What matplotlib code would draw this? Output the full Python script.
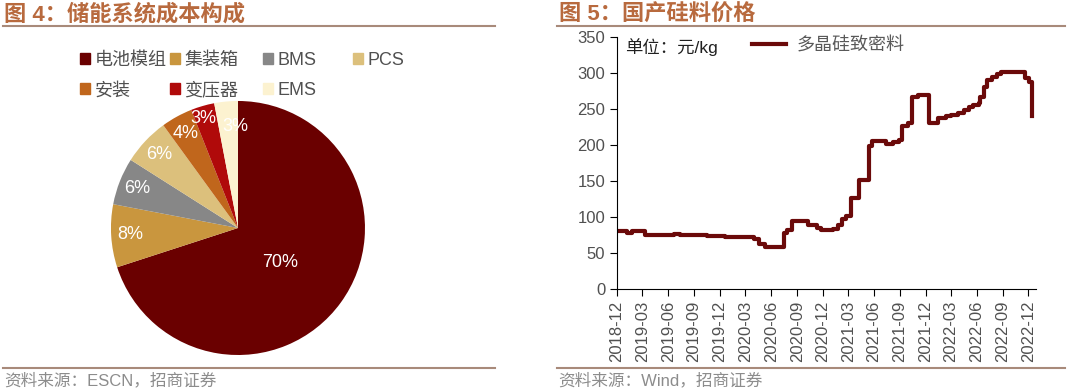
import matplotlib
matplotlib.use('Agg')
import matplotlib.pyplot as plt
from matplotlib.lines import Line2D
import pandas as pd

plt.rcParams['font.family'] = ['Liberation Sans', 'Noto Sans CJK SC']
plt.rcParams['axes.unicode_minus'] = False

# 图4 数据
parts = ['电池模组', '集装箱', 'BMS', 'PCS', '安装', '变压器', 'EMS']
shares = [70, 8, 6, 6, 4, 3, 3]
part_colors = ['#6a0000', '#c9963e', '#878787', '#dcc07c', '#c0661c', '#b00a0a', '#fcf2d0']

# 图5 数据（多晶硅致密料，元/kg）
price_dates = ['2018-12-01', '2019-01-05', '2019-01-22', '2019-03-12', '2019-06-20', '2019-07-12',
               '2019-10-18', '2019-12-20', '2020-03-30', '2020-04-17', '2020-05-10', '2020-07-15',
               '2020-07-28', '2020-08-12', '2020-10-10', '2020-11-10', '2020-11-25', '2021-01-05',
               '2021-01-25', '2021-02-08', '2021-02-22', '2021-03-10', '2021-04-08', '2021-05-14',
               '2021-05-25', '2021-07-12', '2021-08-08', '2021-08-28', '2021-09-08', '2021-10-01',
               '2021-10-14', '2021-11-05', '2021-12-12', '2022-01-14', '2022-02-10', '2022-03-01',
               '2022-03-25', '2022-04-15', '2022-05-05', '2022-05-18', '2022-06-08', '2022-06-14',
               '2022-06-28', '2022-07-08', '2022-07-25', '2022-08-12', '2022-08-25', '2022-11-18',
               '2022-12-05', '2022-12-13', '2022-12-14']
price_values = [81, 78, 81, 75, 76, 75,
                73.5, 72.5, 70, 62, 59, 78,
                82, 94.5, 89, 85, 82, 84,
                89, 97, 102, 126, 151, 199,
                205, 201, 204, 207, 227, 231,
                267, 269, 230, 237, 240, 242,
                244, 249, 253, 256, 259, 267,
                280, 290, 294, 298, 302, 293,
                288, 286, 240]

title_color = '#b86a3e'
rule_color = '#a88a7a'
src_color = '#8c8c8c'

fig = plt.figure(figsize=(10.7, 3.89), dpi=100)

# 标题、分隔线、资料来源
fig.text(0.004, 0.962, '图 4：储能系统成本构成', color=title_color, fontsize=16,
         fontweight='bold', va='center')
fig.text(0.522, 0.962, '图 5：国产硅料价格', color=title_color, fontsize=16,
         fontweight='bold', va='center')
for x0, x1 in [(0.003, 0.463), (0.521, 0.995)]:
    fig.add_artist(Line2D([x0, x1], [0.932, 0.932], color=rule_color, lw=1.5))
    fig.add_artist(Line2D([x0, x1], [0.055, 0.055], color=rule_color, lw=1.5))
fig.text(0.004, 0.022, '资料来源：ESCN，招商证券', color=src_color, fontsize=12, va='center')
fig.text(0.522, 0.022, '资料来源：Wind，招商证券', color=src_color, fontsize=12, va='center')

# 图4 饼图
ax1 = fig.add_axes([0.1037, 0.0874, 0.2374, 0.653])
wedges, texts, autotexts = ax1.pie(shares, colors=part_colors, startangle=90, counterclock=False,
                                   autopct='%d%%', pctdistance=0.85, radius=1,
                                   textprops=dict(color='white', fontsize=13))
autotexts[0].set_position((0.33, -0.27))
autotexts[5].set_position((-0.27, 0.86))
autotexts[6].set_position((-0.02, 0.8))
ax1.set_xlim(-1, 1)
ax1.set_ylim(-1, 1)
ax1.set_aspect('equal')

# 图例：四列等宽，每列一个小图例
col_x = [0.0748, 0.159, 0.2458, 0.33]
for i, x in enumerate(col_x):
    idx = [j for j in (i, i + 4) if j < len(parts)]
    hs = [plt.Rectangle((0, 0), 1, 1, color=part_colors[j]) for j in idx]
    fig.legend(hs, [parts[j] for j in idx], loc='upper left', bbox_to_anchor=(x, 0.867),
               frameon=False, fontsize=13, handlelength=0.55, handleheight=0.55,
               handletextpad=0.25, labelspacing=0.75, borderpad=0, borderaxespad=0,
               labelcolor='#505050')

# 图5 折线
ax2 = fig.add_axes([0.5766, 0.2571, 0.3916, 0.6478])
dates = pd.to_datetime(price_dates)
ax2.plot(dates, price_values, color='#6b0a0a', lw=3, drawstyle='steps-post',
         solid_joinstyle='round', label='多晶硅致密料')
ax2.set_ylim(0, 350)
ax2.set_yticks(range(0, 351, 50))
ax2.set_xlim(pd.Timestamp('2018-12-01'), pd.Timestamp('2022-12-28'))
ticks = pd.date_range('2018-12-01', '2022-12-01', freq='3MS')
ax2.set_xticks(ticks)
ax2.set_xticklabels([t.strftime('%Y-%m') for t in ticks], rotation=90)
ax2.spines['top'].set_visible(False)
ax2.spines['right'].set_visible(False)
ax2.tick_params(labelcolor='#505050', labelsize=12, length=5, direction='out', color='black')
ax2.text(0.019, 0.96, '单位：元/kg', transform=ax2.transAxes, fontsize=12.5, va='center',
         color='#202020')
ax2.legend(loc='upper left', bbox_to_anchor=(0.322, 1.0), frameon=False, fontsize=13,
           handlelength=1.9, handletextpad=0.6, borderpad=0, borderaxespad=0,
           labelcolor='#595959')

fig.savefig('out.png', dpi=100)
